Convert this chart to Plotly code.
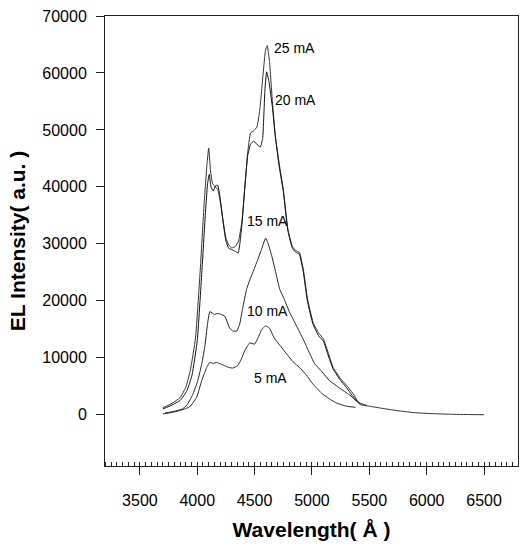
import plotly.graph_objects as go

# ---- data ----
x25 = [3700, 3780, 3850, 3900, 3940, 3985, 4025, 4060, 4085, 4100, 4115, 4135, 4160, 4180, 4200, 4225, 4250, 4275, 4300, 4330,
       4360, 4390, 4415, 4440, 4465, 4490, 4520, 4545, 4575, 4595, 4610, 4630, 4655, 4680, 4715, 4750, 4790, 4830, 4860, 4890,
       4925, 4960, 5010, 5060, 5100, 5140, 5185, 5250, 5300, 5355, 5420, 5500, 5620, 5750, 5900, 6100, 6300, 6500]
y25 = [1200, 2000, 3000, 4800, 7800, 13500, 25000, 37000, 44000, 46800, 43000, 40500, 40000, 39500, 37500, 34000, 31000, 29800, 29300, 29500,
       30500, 34000, 40000, 46000, 49500, 49800, 50500, 53500, 60000, 64000, 64800, 62000, 55000, 49000, 44000, 39600, 32600, 29500, 28800, 28500,
       25500, 20500, 16200, 14300, 13300, 11000, 8300, 6300, 5200, 3800, 1800, 1500, 1100, 700, 350, 150, 50, 0]

x20 = [3700, 3780, 3850, 3910, 3955, 4000, 4040, 4070, 4090, 4105, 4120, 4140, 4160, 4178, 4200, 4225, 4250, 4275, 4300, 4330,
       4357, 4390, 4415, 4440, 4465, 4490, 4520, 4550, 4570, 4590, 4605, 4625, 4655, 4680, 4715, 4750, 4790, 4830, 4860, 4890,
       4925, 4960, 5010, 5060, 5100, 5140, 5185, 5250, 5300, 5350, 5420]
y20 = [1000, 1700, 2500, 4200, 7000, 13000, 25000, 35000, 40500, 42200, 40000, 39300, 40200, 40300, 38000, 34000, 30500, 29200, 29000, 28700,
       28400, 33500, 40000, 45500, 47500, 48000, 47500, 47000, 48500, 57000, 60200, 58500, 54000, 49000, 43500, 39200, 32300, 29200, 28500, 28200,
       25000, 20000, 15800, 13800, 12900, 10500, 8000, 6000, 4800, 3400, 1800]

x15 = [3720, 3800, 3870, 3910, 3960, 4005, 4040, 4065, 4090, 4110, 4150, 4178, 4210, 4240, 4283, 4310, 4345, 4370, 4396, 4430,
       4460, 4485, 4525, 4560, 4596, 4615, 4648, 4690, 4718, 4760, 4805, 4860, 4918, 4970, 5022, 5090, 5152, 5240, 5326, 5400, 5480]
y15 = [300, 600, 1000, 1700, 3500, 6000, 9000, 11800, 16000, 18100, 17600, 17800, 17600, 17300, 15200, 14700, 14700, 15900, 18700, 22000,
       23800, 25000, 27100, 29000, 31000, 30200, 28000, 24500, 22100, 20200, 18000, 15800, 13500, 11200, 9000, 7500, 6000, 4700, 3500, 2200, 1600]

x10 = [3700, 3780, 3860, 3935, 3996, 4039, 4083, 4109, 4140, 4170, 4205, 4239, 4275, 4309, 4352, 4385, 4413, 4457, 4500, 4530,
       4561, 4595, 4630, 4670, 4720, 4778, 4835, 4891, 4950, 5004, 5083, 5150, 5220, 5300, 5380]
y10 = [150, 400, 800, 1400, 3100, 6000, 8300, 9200, 9000, 9200, 8900, 8600, 8300, 8200, 8600, 9800, 11200, 12600, 12400, 13500,
       14900, 15600, 15200, 13500, 12200, 10700, 9300, 8300, 7000, 5500, 3800, 2800, 2000, 1500, 1300]

label_text = ["25 mA", "20 mA", "15 mA", "10 mA", "5 mA"]
label_x = [4648, 4657, 4413, 4413, 4474]
label_y = [64450, 55300, 34040, 18140, 6390]

series = [("25 mA", x25, y25, "#333333"), ("20 mA", x20, y20, "#111111"),
          ("15 mA", x15, y15, "#222222"), ("10 mA", x10, y10, "#2a2a2a")]

fig = go.Figure()
for name, xs, ys, col in series:
    fig.add_trace(go.Scatter(x=xs, y=ys, mode="lines", name=name,
                             line=dict(color=col, width=1, shape="spline", smoothing=0.4),
                             showlegend=False))

for t, ax, ay in zip(label_text, label_x, label_y):
    fig.add_annotation(x=ax, y=ay, xref="x", yref="y", text=t, showarrow=False,
                       xanchor="left", yanchor="middle",
                       font=dict(family="Arial, Liberation Sans", size=14, color="black"))

font_fam = "Arial, Liberation Sans"
fig.update_layout(
    width=527, height=546,
    margin=dict(l=105, r=8, t=10, b=79),
    plot_bgcolor="white", paper_bgcolor="white",
    font=dict(family=font_fam, color="black"),
    xaxis=dict(range=[3196, 6796], tickmode="linear", tick0=3500, dtick=500,
               showline=True, linecolor="#222", linewidth=1, mirror=True,
               ticks="outside", ticklen=8, tickcolor="#222", tickwidth=1,
               showgrid=False, zeroline=False, tickformat="d",
               tickfont=dict(size=16, family=font_fam, color="black"),
               ticklabelstandoff=12,
               minor=dict(ticks="inside", ticklen=4, tick0=3500, dtick=50, tickcolor="#222", showgrid=False),
               title=dict(text="<b>Wavelength( Å )</b>", font=dict(size=21, family=font_fam, color="black"),
                          standoff=14)),
    yaxis=dict(range=[-9000, 70000], tickmode="linear", tick0=0, dtick=10000,
               showline=True, linecolor="#222", linewidth=1, mirror=True,
               ticks="outside", ticklen=8, tickcolor="#222", tickwidth=1,
               showgrid=False, zeroline=False, tickformat="d",
               tickfont=dict(size=16, family=font_fam, color="black"),
               ticklabelstandoff=6,
               title=dict(text="<b>EL Intensity( a.u. )</b>", font=dict(size=21, family=font_fam, color="black"),
                          standoff=10)),
)

fig.write_html("out.html")
